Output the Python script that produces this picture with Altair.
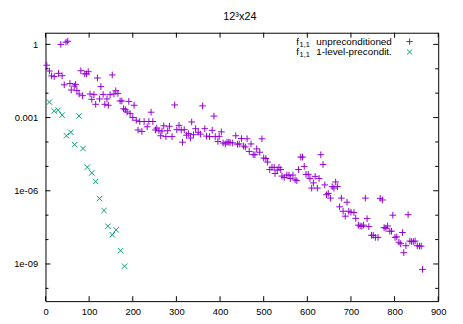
import altair as alt
import pandas as pd

# ---------------- data ----------------
unprec_iter = [3, 9, 14, 20, 30, 35, 38, 43, 47, 51, 56, 59, 66, 69, 72, 77, 81, 85, 90, 94,
               98, 102, 106, 111, 115, 119, 124, 127, 132, 136, 141, 144, 148, 153, 157, 161,
               166, 171, 175, 179, 183, 187, 191, 194, 200, 203, 208, 212, 216, 221, 226, 233,
               237, 242, 246, 252, 255, 260, 264, 267, 271, 276, 280, 284, 290, 296, 301, 306,
               311, 314, 318, 323, 328, 332, 335, 339, 344, 350, 355, 360, 365, 369, 376, 382,
               386, 389, 395, 398, 403, 407, 412, 416, 420, 423, 429, 436, 440, 444, 449, 454,
               458, 462, 467, 471, 476, 480, 484, 491, 496, 500, 505, 509, 514, 519, 524, 526,
               531, 535, 539, 542, 547, 553, 558, 561, 567, 572, 576, 580, 585, 589, 593, 597,
               602, 606, 610, 614, 618, 623, 627, 631, 636, 640, 644, 648, 653, 657, 661, 665,
               669, 674, 678, 682, 687, 691, 695, 700, 707, 711, 717, 721, 725, 729, 733, 737,
               741, 747, 751, 756, 762, 767, 772, 776, 780, 784, 789, 793, 796, 801, 805, 810,
               814, 818, 821, 826, 831, 835, 839, 843, 847, 852, 857, 861, 864]
unprec_val = [1.4e-1, 8.1e-2, 5.1e-2, 4.8e-2, 6.5e-2, 1.0, 5.2e-2, 2.2e-2, 1.23, 1.35,
              2.5e-2, 1.35e-2, 1.95e-2, 2.3e-2, 1.3e-2, 9.3e-3, 8.3e-2, 7.9e-3, 6.2e-2, 6.2e-2,
              7.6e-2, 9.3e-3, 5.6e-3, 8.7e-3, 3.5e-3, 4.2e-2, 5.8e-3, 1.86e-2, 8.9e-3, 3.5e-3,
              5.8e-3, 3.2e-3, 8.7e-3, 5.6e-2, 9.3e-3, 1.26e-2, 9.8e-3, 4.8e-3, 4.8e-3, 2.3e-3,
              2.1e-3, 1.7e-3, 4.6e-3, 1.45e-3, 1.0e-3, 3.2e-3, 7.8e-4, 3.1e-4, 6.9e-4, 2.7e-4,
              6.9e-4, 4.2e-4, 6.9e-4, 1.66e-3, 6.9e-4, 3.1e-4, 3.7e-4, 2.9e-4, 1.8e-4, 2.8e-4,
              4.6e-4, 1.66e-4, 2.9e-4, 4.4e-4, 1.66e-4, 3.3e-3, 3.2e-4, 4.8e-4, 3.1e-4, 9.8e-5,
              3.2e-4, 1.9e-4, 2.2e-4, 1.45e-4, 6.6e-4, 2.0e-4, 3.5e-4, 2.5e-4, 2.1e-4, 3.0e-3,
              3.5e-4, 1.74e-4, 1.66e-4, 3.0e-4, 1.15e-3, 1.66e-4, 1.05e-4, 1.7e-4, 2.6e-4, 9.1e-5,
              8.3e-5, 9.8e-5, 9.8e-5, 9.5e-5, 9.1e-5, 1.8e-4, 8.1e-5, 8.3e-5, 1.38e-4, 6.8e-5,
              6.2e-5, 1.35e-4, 4.1e-5, 8.3e-5, 3.0e-5, 3.0e-5, 5.2e-5, 3.8e-5, 1.35e-4, 2.2e-5,
              2.1e-5, 1.5e-5, 7.4e-6, 9.1e-6, 9.1e-6, 5.1e-6, 7.1e-6, 9.1e-6, 7.4e-6, 4.0e-6,
              3.5e-6, 4.4e-6, 4.4e-6, 3.2e-6, 4.4e-6, 2.8e-6, 2.6e-6, 7.4e-6, 2.4e-5, 2.4e-5,
              1.0e-5, 4.7e-6, 4.7e-6, 3.2e-6, 1.29e-6, 2.1e-6, 3.9e-6, 1.29e-6, 3.2e-6, 3.0e-5,
              1.2e-5, 1.74e-6, 6.9e-7, 7.8e-7, 5.0e-7, 1.48e-6, 1.29e-6, 2.3e-6, 1.48e-6, 2.2e-7,
              5.0e-7, 1.45e-7, 9.1e-8, 3.4e-7, 1.45e-7, 1.32e-7, 1.29e-7, 7.4e-8, 3.9e-8, 3.6e-8,
              3.5e-8, 3.9e-8, 5.0e-7, 7.2e-8, 3.4e-8, 1.5e-8, 1.5e-8, 1.23e-8, 1.23e-8, 4.9e-7,
              4.2e-7, 3.1e-8, 2.9e-8, 3.6e-8, 2.2e-8, 2.2e-8, 1.0e-7, 1.23e-8, 1.29e-8, 7.8e-9,
              6.8e-9, 1.95e-8, 2.9e-9, 5.6e-9, 1.05e-7, 8.7e-9, 8.3e-9, 8.3e-9, 8.7e-9, 5.6e-9,
              5.4e-9, 5.4e-9, 6.0e-10]

prec_iter = [9, 20, 29, 38, 48, 58, 67, 77, 86, 96, 106, 115, 124, 134, 143, 153, 162, 172, 181]
prec_val = [4.3e-3, 1.86e-3, 2.0e-3, 1.26e-3, 1.8e-4, 2.5e-4, 7.8e-5, 1.17e-3, 5.4e-5, 9.3e-6,
            5.4e-6, 2.4e-6, 4.8e-7, 1.55e-7, 3.5e-8, 1.58e-8, 2.5e-8, 3.5e-9, 8.1e-10]

x_ticks = [0, 100, 200, 300, 400, 500, 600, 700, 800, 900]
y_major = [1, 1e-3, 1e-6, 1e-9]
y_major_labels = ["1", "0.001", "1e-06", "1e-09"]
y_minor = [1e-1, 1e-2, 1e-4, 1e-5, 1e-7, 1e-8, 1e-10]

title_text = "12³x24"
legend_names = ["unpreconditioned", "1-level-precondit."]
legend_colors = ["#9400d3", "#009e73"]

# ---------------- styling ----------------
W, H = 398, 272
FONT = "Liberation Sans"
PLUS = "M-1,0L1,0M0,-1L0,1"
CROSS = "M-1,-1L1,1M-1,1L1,-1"

xscale = alt.Scale(domain=[0, 900], nice=False, zero=False)
yscale = alt.Scale(type="log", domain=[3e-11, 3], nice=False)

label_expr = ("datum.value > 0.5 ? '%s' : datum.value > 5e-4 ? '%s' : "
              "datum.value > 5e-7 ? '%s' : '%s'") % tuple(y_major_labels)

X_AXIS = alt.Axis(values=x_ticks, title=None, ticks=False, domain=False, grid=False,
                  labelFontSize=9.5, labelFont=FONT, labelColor="black",
                  labelPadding=6, labelFlush=False, labelOverlap=False)
Y_AXIS = alt.Axis(values=y_major, title=None, ticks=False, domain=False, grid=False,
                  labelExpr=label_expr, labelFontSize=9.5, labelFont=FONT,
                  labelColor="black", labelPadding=8, labelFlush=False,
                  labelOverlap=False)

df_u = pd.DataFrame({"iter": unprec_iter, "val": unprec_val})
df_p = pd.DataFrame({"iter": prec_iter, "val": prec_val})

pts_u = alt.Chart(df_u).mark_point(
    shape=PLUS, size=46, filled=False, strokeWidth=1, color=legend_colors[0], opacity=1
).encode(
    x=alt.X("iter:Q", scale=xscale, axis=X_AXIS),
    y=alt.Y("val:Q", scale=yscale, axis=Y_AXIS),
)

pts_p = alt.Chart(df_p).mark_point(
    shape=CROSS, size=30, filled=False, strokeWidth=1, color=legend_colors[1], opacity=1
).encode(
    x=alt.X("iter:Q", scale=xscale, axis=X_AXIS),
    y=alt.Y("val:Q", scale=yscale, axis=Y_AXIS),
)

df_xt = pd.DataFrame({"iter": x_ticks})
df_ymaj = pd.DataFrame({"val": y_major})
df_ymin = pd.DataFrame({"val": y_minor})

MAJ, MIN = 5, 3
ticks = []
for y0, y1 in [(H, H - MAJ), (0, MAJ)]:
    ticks.append(alt.Chart(df_xt).mark_rule(color="black", strokeWidth=1).encode(
        x=alt.X("iter:Q", scale=xscale, axis=X_AXIS), y=alt.value(y0), y2=alt.value(y1)))
for df, ln in [(df_ymaj, MAJ), (df_ymin, MIN)]:
    for x0, x1 in [(0, ln), (W, W - ln)]:
        ticks.append(alt.Chart(df).mark_rule(color="black", strokeWidth=1).encode(
            y=alt.Y("val:Q", scale=yscale, axis=Y_AXIS), x=alt.value(x0), x2=alt.value(x1)))

# title
title = alt.Chart(pd.DataFrame({"t": [title_text]})).mark_text(
    font=FONT, fontSize=11, color="black", align="center", baseline="middle"
).encode(text="t:N", x=alt.value(W / 2 - 2), y=alt.value(-16))

# legend (gnuplot style: text then symbol)
leg_layers = []
rows_y = [9, 19.5]
shapes = [(PLUS, 40), (CROSS, 28)]
for i, name in enumerate(legend_names):
    ry = rows_y[i]
    leg_layers.append(alt.Chart(pd.DataFrame({"t": ["f"]})).mark_text(
        font=FONT, fontSize=10, color="black", align="left", baseline="middle"
    ).encode(text="t:N", x=alt.value(254), y=alt.value(ry)))
    leg_layers.append(alt.Chart(pd.DataFrame({"t": ["1,1"]})).mark_text(
        font=FONT, fontSize=7.5, color="black", align="left", baseline="middle"
    ).encode(text="t:N", x=alt.value(257.5), y=alt.value(ry + 3.5)))
    leg_layers.append(alt.Chart(pd.DataFrame({"t": [name]})).mark_text(
        font=FONT, fontSize=10, color="black", align="right", baseline="middle"
    ).encode(text="t:N", x=alt.value(351), y=alt.value(ry)))
    leg_layers.append(alt.Chart(pd.DataFrame({"t": [name]})).mark_point(
        shape=shapes[i][0], size=shapes[i][1], filled=False, strokeWidth=1,
        color=legend_colors[i], opacity=1
    ).encode(x=alt.value(369), y=alt.value(ry)))

chart = alt.layer(pts_u, pts_p, *ticks, title, *leg_layers).properties(
    width=W, height=H,
    autosize=alt.AutoSizeParams(type="none"),
    padding={"left": 38, "top": 23, "right": 17, "bottom": 13},
    background="white",
).configure_view(stroke="black", strokeWidth=1)

chart.save("out.html", embed_options={"renderer": "svg", "actions": False})
